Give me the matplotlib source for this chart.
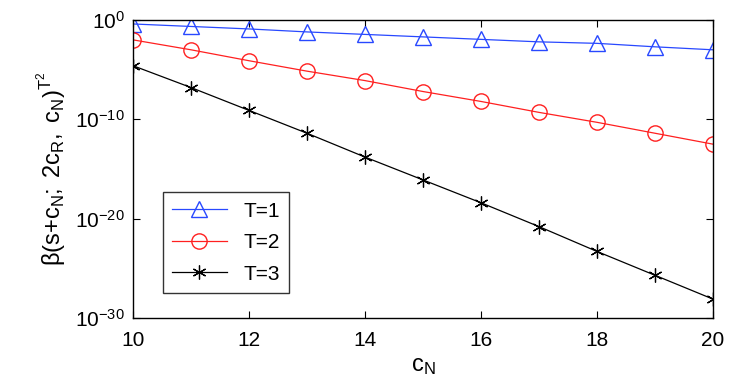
import matplotlib
matplotlib.use('Agg')
import matplotlib.pyplot as plt

plt.rcParams['font.family'] = ['Liberation Sans', 'DejaVu Sans']
plt.rcParams['mathtext.fontset'] = 'custom'
plt.rcParams['mathtext.rm'] = 'Liberation Sans'
plt.rcParams['mathtext.it'] = 'Liberation Sans'
plt.rcParams['mathtext.bf'] = 'Liberation Sans'

# valores (exponentes en base 10)
cN = [10, 11, 12, 13, 14, 15, 16, 17, 18, 19, 20]
log_t1 = [-0.4, -0.65, -0.9, -1.2, -1.45, -1.7, -1.95, -2.2, -2.35, -2.7, -3.0]
log_t2 = [-2.0, -3.0, -4.1, -5.15, -6.1, -7.2, -8.2, -9.3, -10.3, -11.4, -12.5]
log_t3 = [-4.6, -6.8, -9.1, -11.4, -13.8, -16.1, -18.4, -20.8, -23.3, -25.7, -28.1]
etiquetas = ['T=1', 'T=2', 'T=3']

fig = plt.figure(figsize=(7.47, 3.9), dpi=100)
ax = fig.add_axes([133 / 747, 1 - 318 / 390, 580 / 747, 298 / 390])

ax.semilogy(cN, [10 ** v for v in log_t1], color='#2848ff', lw=0.9, marker='^',
            ms=11, mfc='none', mew=1.0, label=etiquetas[0])
ax.semilogy(cN, [10 ** v for v in log_t2], color='#ff2020', lw=0.9, marker='o',
            ms=11, mfc='none', mew=1.0, label=etiquetas[1])
ax.semilogy(cN, [10 ** v for v in log_t3], color='k', lw=0.9, marker=(6, 2, 0),
            ms=10, mew=0.9, label=etiquetas[2])

ax.set_xlim(10, 20)
ax.set_ylim(1e-30, 1e0)
ax.set_xticks([10, 12, 14, 16, 18, 20])
ax.set_yticks([1e-30, 1e-20, 1e-10, 1e0])
ax.yaxis.set_minor_locator(matplotlib.ticker.NullLocator())
ax.tick_params(direction='in', top=True, right=True, labelsize=15, length=5)
ax.tick_params(axis='x', pad=9)
ax.tick_params(axis='y', pad=6)
for s in ax.spines.values():
    s.set_linewidth(1.0)

ax.set_xlabel(r'$\mathrm{c_N}$', fontsize=17, labelpad=4)
ax.set_ylabel(r'$\mathrm{\beta(s{+}c_N;\ 2c_R,\ c_N)^{T^2}}$', fontsize=17, labelpad=4)

leg = ax.legend(loc='lower left', bbox_to_anchor=(30 / 580, 25 / 298), fontsize=15,
                fancybox=False, edgecolor='k', handlelength=2.6, borderpad=0.45,
                labelspacing=0.6, borderaxespad=0)
leg.get_frame().set_linewidth(1.0)

fig.savefig('out.png', dpi=100)
